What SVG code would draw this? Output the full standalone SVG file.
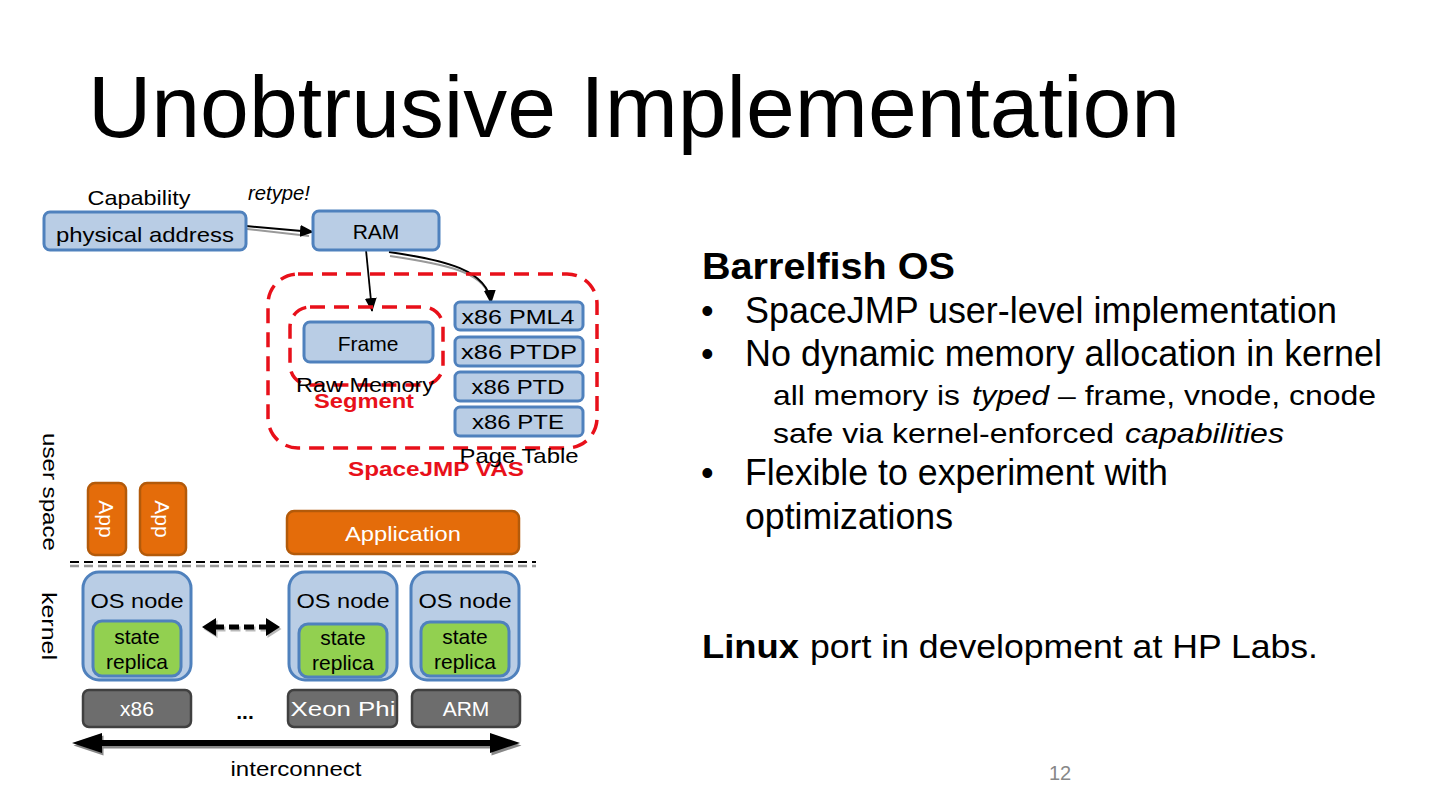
<svg xmlns="http://www.w3.org/2000/svg" width="1440" height="810" viewBox="0 0 1440 810">
<defs>
<style>
text{font-family:"Liberation Sans",Arial,sans-serif;fill:#000}
.blue{fill:#b9cde5;stroke:#4f81bd;stroke-width:3}
.pt{fill:#b9cde5;stroke:#4f81bd;stroke-width:3}
.orange{fill:#e46c0a;stroke:#b35a0a;stroke-width:2.5}
.green{fill:#92d050;stroke:#4f81bd;stroke-width:3}
.gray{fill:#6d6d6d;stroke:#404040;stroke-width:2.5}
.red{fill:none;stroke:#e8101a;stroke-width:3.5;stroke-dasharray:15 9}
.lbl{font-size:21px;text-anchor:middle}
.wl{font-size:21px;text-anchor:middle;fill:#fff}
.redt{font-size:21px;font-weight:bold;fill:#e8101a;text-anchor:middle}
.body{font-size:36px}
.sub{font-size:28px}
</style>
<marker id="ah" viewBox="0 0 14 12" refX="13" refY="6" markerWidth="14" markerHeight="12" orient="auto" markerUnits="userSpaceOnUse">
<path d="M0,0 L14,6 L0,12 z" fill="#000"/>
</marker>
</defs>
<rect width="1440" height="810" fill="#fff"/>

<text x="88" y="137" font-size="88" textLength="1092" lengthAdjust="spacingAndGlyphs">Unobtrusive Implementation</text>

<!-- connectors -->
<g id="connectors">
<line x1="247" y1="229" x2="309" y2="236" stroke="#999" stroke-width="2"/>
<line x1="246" y1="226" x2="313" y2="232" stroke="#000" stroke-width="2" marker-end="url(#ah)"/>
<line x1="366" y1="250" x2="372" y2="311" stroke="#000" stroke-width="1.8" marker-end="url(#ah)"/>
<path d="M390,256 C445,264 483,272 489,296" fill="none" stroke="#999" stroke-width="2"/>
<path d="M389,252 C445,260 488,270 491,303" fill="none" stroke="#000" stroke-width="2" marker-end="url(#ah)"/>
<!-- separator -->
<line x1="70" y1="566" x2="536" y2="566" stroke="#999" stroke-width="2.5" stroke-dasharray="9 5"/>
<line x1="70" y1="562" x2="536" y2="562" stroke="#000" stroke-width="2" stroke-dasharray="9 5"/>
<!-- dashed double arrow -->
<g transform="translate(1.5,2)" opacity="0.45">
<line x1="214" y1="627" x2="268" y2="627" stroke="#666" stroke-width="5" stroke-dasharray="10 5"/>
<path d="M202,627 L216,618 L216,636 z M280,627 L266,618 L266,636 z" fill="#666"/>
</g>
<line x1="214" y1="627" x2="268" y2="627" stroke="#000" stroke-width="5" stroke-dasharray="10 5"/>
<path d="M202,627 L216,618 L216,636 z M280,627 L266,618 L266,636 z" fill="#000"/>
<!-- interconnect -->
<g transform="translate(1.5,2.5)">
<line x1="95" y1="743" x2="497" y2="743" stroke="#888" stroke-width="6"/>
<path d="M72,743 L102,733 L102,753 z M520,743 L490,733 L490,753 z" fill="#888"/>
</g>
<line x1="95" y1="743" x2="497" y2="743" stroke="#000" stroke-width="6"/>
<path d="M72,743 L102,733 L102,753 z M520,743 L490,733 L490,753 z" fill="#000"/>
</g>

<text x="139" y="205" class="lbl" textLength="103" lengthAdjust="spacingAndGlyphs">Capability</text>
<text x="248" y="200" font-size="21" font-style="italic" textLength="62" lengthAdjust="spacingAndGlyphs">retype!</text>

<g id="physaddr">
<rect x="44" y="212" width="202" height="38" rx="6" class="blue"/>
<text x="145" y="242" class="lbl" textLength="178" lengthAdjust="spacingAndGlyphs">physical address</text>
</g>
<g id="ram">
<rect x="313" y="211" width="126" height="39" rx="6" class="blue"/>
<text x="376" y="239" class="lbl">RAM</text>
</g>

<g id="vas">
<rect x="268" y="274" width="329" height="174" rx="30" class="red"/>
<text x="436" y="476" class="redt" textLength="176" lengthAdjust="spacingAndGlyphs">SpaceJMP VAS</text>
</g>
<g id="segment">
<rect x="290" y="307" width="153" height="78" rx="20" class="red"/>
<text x="364" y="408" class="redt" textLength="100" lengthAdjust="spacingAndGlyphs">Segment</text>
</g>
<g id="frame">
<rect x="304" y="322" width="129" height="40" rx="6" class="blue"/>
<text x="368" y="351" class="lbl">Frame</text>
<text x="365" y="392" class="lbl" textLength="138" lengthAdjust="spacingAndGlyphs">Raw Memory</text>
</g>
<g id="pagetable">
<rect x="455" y="302" width="128" height="28" rx="5" class="pt"/>
<text x="518" y="324" class="lbl" font-size="20" textLength="113" lengthAdjust="spacingAndGlyphs">x86 PML4</text>
<rect x="455" y="337" width="128" height="29" rx="5" class="pt"/>
<text x="519" y="359" class="lbl" font-size="20" textLength="116" lengthAdjust="spacingAndGlyphs">x86 PTDP</text>
<rect x="455" y="372" width="128" height="29" rx="5" class="pt"/>
<text x="518" y="394" class="lbl" font-size="20" textLength="93" lengthAdjust="spacingAndGlyphs">x86 PTD</text>
<rect x="455" y="407" width="128" height="29" rx="5" class="pt"/>
<text x="518" y="429" class="lbl" font-size="20" textLength="92" lengthAdjust="spacingAndGlyphs">x86 PTE</text>
<text x="519" y="463" class="lbl" textLength="119" lengthAdjust="spacingAndGlyphs">Page Table</text>
</g>

<text transform="translate(43,492) rotate(90)" class="lbl" textLength="118" lengthAdjust="spacingAndGlyphs">user space</text>
<text transform="translate(42,626) rotate(90)" class="lbl" textLength="68" lengthAdjust="spacingAndGlyphs">kernel</text>

<g id="app1">
<rect x="88" y="483" width="38" height="72" rx="7" class="orange"/>
<text transform="translate(99,519) rotate(90)" class="wl" font-size="22">App</text>
</g>
<g id="app2">
<rect x="140" y="483" width="46" height="72" rx="7" class="orange"/>
<text transform="translate(155,519) rotate(90)" class="wl" font-size="22">App</text>
</g>
<g id="application">
<rect x="287" y="511" width="232" height="43" rx="7" class="orange"/>
<text x="403" y="541" class="wl" font-size="22" textLength="116" lengthAdjust="spacingAndGlyphs">Application</text>
</g>

<g id="osnode1">
<rect x="83" y="572" width="108" height="108" rx="16" class="blue"/>
<text x="137" y="608" class="lbl" font-size="22" textLength="93" lengthAdjust="spacingAndGlyphs">OS node</text>
<rect x="93" y="621" width="88" height="55" rx="9" class="green"/>
<text x="137" y="644" class="lbl" font-size="22">state</text>
<text x="137" y="669" class="lbl" font-size="22">replica</text>
</g>
<g id="osnode2">
<rect x="289" y="572" width="108" height="108" rx="16" class="blue"/>
<text x="343" y="608" class="lbl" font-size="22" textLength="93" lengthAdjust="spacingAndGlyphs">OS node</text>
<rect x="299" y="624" width="88" height="53" rx="9" class="green"/>
<text x="343" y="645" class="lbl" font-size="22">state</text>
<text x="343" y="670" class="lbl" font-size="22">replica</text>
</g>
<g id="osnode3">
<rect x="411" y="572" width="108" height="108" rx="16" class="blue"/>
<text x="465" y="608" class="lbl" font-size="22" textLength="93" lengthAdjust="spacingAndGlyphs">OS node</text>
<rect x="421" y="622" width="88" height="54" rx="9" class="green"/>
<text x="465" y="644" class="lbl" font-size="22">state</text>
<text x="465" y="669" class="lbl" font-size="22">replica</text>
</g>

<g id="x86">
<rect x="83" y="690" width="108" height="37" rx="6" class="gray"/>
<text x="137" y="716" class="wl">x86</text>
</g>
<text x="245" y="719" class="lbl" font-size="30" font-weight="bold">...</text>
<g id="xeonphi">
<rect x="288" y="690" width="109" height="37" rx="6" class="gray"/>
<text x="343" y="716" class="wl" textLength="105" lengthAdjust="spacingAndGlyphs">Xeon Phi</text>
</g>
<g id="arm">
<rect x="412" y="690" width="108" height="37" rx="6" class="gray"/>
<text x="466" y="716" class="wl">ARM</text>
</g>
<text x="296" y="776" class="lbl" textLength="131" lengthAdjust="spacingAndGlyphs">interconnect</text>

<!-- right text -->
<text x="702" y="279" font-size="36" font-weight="bold" textLength="253" lengthAdjust="spacingAndGlyphs">Barrelfish OS</text>
<text x="701" y="323" class="body">•</text>
<text x="745" y="323" class="body" textLength="592" lengthAdjust="spacingAndGlyphs">SpaceJMP user-level implementation</text>
<text x="701" y="366" class="body">•</text>
<text x="745" y="366" class="body" textLength="637" lengthAdjust="spacingAndGlyphs">No dynamic memory allocation in kernel</text>
<text x="773" y="405" class="sub" textLength="187" lengthAdjust="spacingAndGlyphs">all memory is</text>
<text x="972" y="405" class="sub" font-style="italic" textLength="77" lengthAdjust="spacingAndGlyphs">typed</text>
<text x="1058" y="405" class="sub" textLength="318" lengthAdjust="spacingAndGlyphs">– frame, vnode, cnode</text>
<text x="773" y="443" class="sub" textLength="341" lengthAdjust="spacingAndGlyphs">safe via kernel-enforced</text>
<text x="1125" y="443" class="sub" font-style="italic" textLength="159" lengthAdjust="spacingAndGlyphs">capabilities</text>
<text x="701" y="485" class="body">•</text>
<text x="745" y="485" class="body" textLength="423" lengthAdjust="spacingAndGlyphs">Flexible to experiment with</text>
<text x="745" y="529" class="body" textLength="208" lengthAdjust="spacingAndGlyphs">optimizations</text>

<text x="702" y="658" font-size="34" font-weight="bold" textLength="97" lengthAdjust="spacingAndGlyphs">Linux</text>
<text x="810" y="658" font-size="34" textLength="508" lengthAdjust="spacingAndGlyphs">port in development at HP Labs.</text>

<text x="1060" y="780" font-size="20" style="fill:#888" text-anchor="middle">12</text>
</svg>
